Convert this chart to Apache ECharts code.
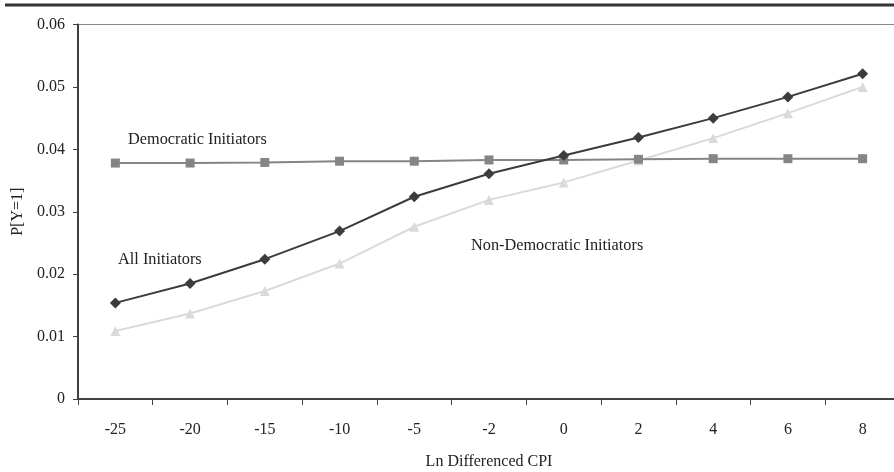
<!DOCTYPE html>
<html><head><meta charset="utf-8">
<script src="https://cdn.jsdelivr.net/npm/echarts@6/dist/echarts.min.js"></script>
<style>html,body{margin:0;padding:0;background:#fff}#c{width:894px;height:472px}</style>
</head><body><div id="c"></div>
<script>
var categories = ['-25','-20','-15','-10','-5','-2','0','2','4','6','8'];
var allInitiators = [0.0154,0.0185,0.0224,0.0269,0.0324,0.0361,0.0390,0.0419,0.0450,0.0484,0.0521];
var democratic = [0.0378,0.0378,0.0379,0.0381,0.0381,0.0383,0.0383,0.0384,0.0385,0.0385,0.0385];
var nonDemocratic = [0.0109,0.0137,0.0173,0.0217,0.0276,0.0319,0.0347,0.0382,0.0418,0.0458,0.0500];
var yTicks = [0,0.01,0.02,0.03,0.04,0.05,0.06];

var F = 'Liberation Serif';
var chart = echarts.init(document.getElementById('c'));
chart.setOption({
  animation:false,
  backgroundColor:'#fff',
  grid:{left:78, top:24.5, width:822, height:374.5, containLabel:false, outerBoundsMode:'none'},
  xAxis:{type:'category', data:categories, boundaryGap:true,
    name:'Ln Differenced CPI', nameLocation:'middle', nameGap:55,
    nameTextStyle:{fontFamily:F, fontSize:16, color:'#222'},
    axisLine:{lineStyle:{color:'#404040', width:2}},
    axisTick:{show:true, length:6, alignWithLabel:false, lineStyle:{color:'#404040', width:1}},
    axisLabel:{fontFamily:F, fontSize:16, color:'#222', margin:23},
    splitLine:{show:false}},
  yAxis:{type:'value', min:0, max:0.06, interval:0.01,
    name:'P[Y=1]', nameLocation:'middle', nameGap:50,
    nameTextStyle:{fontFamily:F, fontSize:16, color:'#222'},
    axisLine:{show:true, lineStyle:{color:'#404040', width:2}},
    axisTick:{show:true, length:5, lineStyle:{color:'#404040', width:1}},
    axisLabel:{fontFamily:F, fontSize:16, color:'#222', margin:13,
      formatter:function(v){ for (var i=0;i<yTicks.length;i++){ if (Math.abs(v-yTicks[i])<1e-9) return v===0?'0':yTicks[i].toFixed(2);} return ''; }},
    splitLine:{show:false}},
  graphic:[
    {type:'line', shape:{x1:5,y1:5,x2:894,y2:5}, style:{stroke:'#333', lineWidth:3}},
    {type:'line', shape:{x1:78,y1:24.5,x2:894,y2:24.5}, style:{stroke:'#888', lineWidth:1}},
    {type:'text', left:128, top:132, style:{text:'Democratic Initiators', font:'16.3px "Liberation Serif"', fill:'#222'}},
    {type:'text', left:118, top:252, style:{text:'All Initiators', font:'16.3px "Liberation Serif"', fill:'#222'}},
    {type:'text', left:471, top:238, style:{text:'Non-Democratic Initiators', font:'16.3px "Liberation Serif"', fill:'#222'}}
  ],
  series:[
    {name:'Non-Democratic Initiators', type:'line', data:nonDemocratic, symbol:'triangle', symbolSize:10,
      itemStyle:{color:'#dadada'}, lineStyle:{color:'#dadada', width:2}, z:2},
    {name:'Democratic Initiators', type:'line', data:democratic, symbol:'rect', symbolSize:9,
      itemStyle:{color:'#858585'}, lineStyle:{color:'#858585', width:2}, z:3},
    {name:'All Initiators', type:'line', data:allInitiators, symbol:'diamond', symbolSize:11,
      itemStyle:{color:'#3c3c3c'}, lineStyle:{color:'#3c3c3c', width:2}, z:4}
  ]
});
</script></body></html>
